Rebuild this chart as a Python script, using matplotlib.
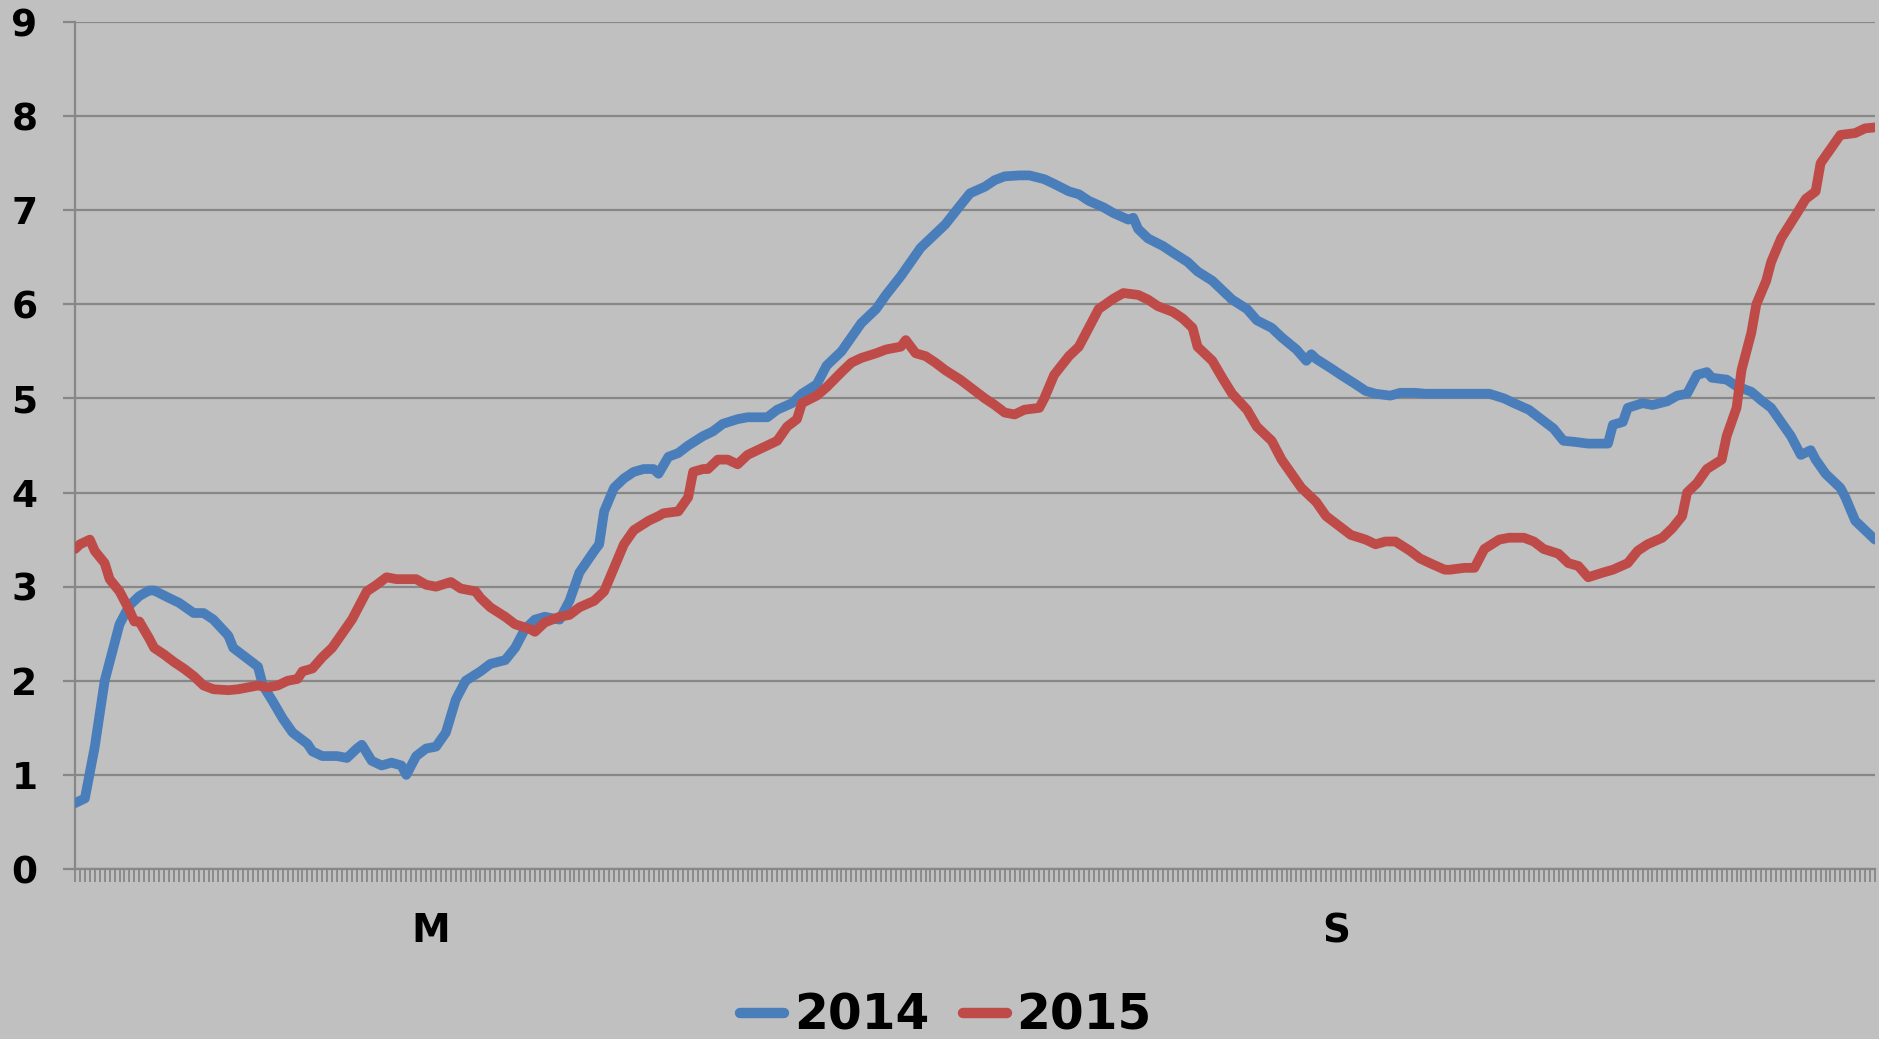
import matplotlib
matplotlib.use("Agg")
import matplotlib.pyplot as plt
from matplotlib.ticker import FixedLocator

# ---- data (day index within the year, value) ----
days_2014 = [0, 2, 4, 6, 8, 9, 11, 13, 15, 16, 19, 21, 24, 26, 28, 31, 32, 35, 37, 38,
             40, 42, 44, 47, 48, 50, 53, 55, 57, 58, 60, 62, 64, 66, 67, 69, 71, 73, 75, 77,
             79, 82, 84, 87, 89, 91, 93, 95, 98, 100, 102, 105, 106, 107, 109, 111, 113, 115, 117, 118,
             120, 122, 124, 127, 129, 131, 134, 136, 140, 142, 145, 147, 150, 152, 155, 157, 159, 162, 164, 167,
             169, 171, 174, 176, 179, 181, 184, 186, 188, 191, 193, 196, 198, 201, 203, 205, 208, 210, 213, 214,
             215, 217, 220, 222, 225, 227, 230, 232, 234, 237, 239, 242, 244, 247, 249, 250, 251, 254, 256, 259,
             261, 263, 266, 268, 271, 273, 276, 286, 289, 291, 294, 296, 299, 301, 303, 306, 308, 310, 311, 313,
             314, 317, 319, 322, 324, 326, 328, 330, 331, 334, 336, 339, 341, 343, 345, 347, 349, 351, 352, 354,
             357, 358, 360, 362, 364]
vals_2014 = [0.70, 0.75, 1.30, 2.00, 2.40, 2.60, 2.80, 2.90, 2.96, 2.96, 2.88, 2.83, 2.72, 2.72, 2.65, 2.48, 2.35, 2.23, 2.15, 1.95,
             1.78, 1.60, 1.45, 1.33, 1.25, 1.20, 1.20, 1.18, 1.28, 1.32, 1.15, 1.10, 1.13, 1.10, 1.00, 1.20, 1.28, 1.30, 1.45, 1.80,
             2.00, 2.10, 2.18, 2.22, 2.35, 2.55, 2.65, 2.68, 2.65, 2.85, 3.15, 3.38, 3.45, 3.80, 4.05, 4.15, 4.22, 4.25, 4.25, 4.20,
             4.38, 4.42, 4.50, 4.60, 4.65, 4.73, 4.78, 4.80, 4.80, 4.88, 4.95, 5.05, 5.15, 5.35, 5.50, 5.65, 5.80, 5.95, 6.10, 6.30,
             6.45, 6.60, 6.75, 6.85, 7.05, 7.18, 7.25, 7.32, 7.36, 7.37, 7.37, 7.33, 7.28, 7.20, 7.17, 7.10, 7.03, 6.97, 6.90, 6.92,
             6.80, 6.70, 6.62, 6.55, 6.45, 6.35, 6.25, 6.15, 6.05, 5.95, 5.83, 5.75, 5.65, 5.52, 5.40, 5.47, 5.42, 5.32, 5.25, 5.15,
             5.08, 5.05, 5.03, 5.06, 5.06, 5.05, 5.05, 5.05, 5.00, 4.95, 4.88, 4.80, 4.68, 4.55, 4.54, 4.52, 4.52, 4.52, 4.72, 4.75,
             4.90, 4.95, 4.93, 4.97, 5.03, 5.05, 5.25, 5.28, 5.22, 5.20, 5.13, 5.07, 4.98, 4.90, 4.75, 4.60, 4.40, 4.45, 4.35, 4.20,
             4.05, 3.95, 3.70, 3.60, 3.50]

days_2015 = [0, 1, 3, 4, 6, 7, 9, 11, 12, 13, 15, 16, 18, 20, 22, 24, 26, 28, 31, 33,
             35, 37, 39, 41, 43, 45, 46, 48, 50, 52, 54, 56, 57, 59, 61, 63, 65, 69, 71, 73,
             76, 78, 81, 82, 84, 87, 89, 92, 93, 95, 98, 100, 102, 105, 107, 109, 111, 113, 116, 118,
             119, 122, 124, 125, 127, 128, 130, 132, 134, 136, 138, 140, 142, 144, 146, 147, 150, 152, 155, 157,
             159, 162, 164, 167, 168, 170, 172, 174, 176, 179, 181, 184, 186, 188, 190, 192, 195, 196, 198, 201,
             203, 205, 207, 210, 212, 215, 217, 219, 222, 224, 226, 227, 230, 232, 234, 237, 239, 242, 244, 246,
             248, 251, 253, 256, 258, 261, 263, 265, 267, 270, 272, 274, 277, 278, 281, 283, 285, 288, 290, 293,
             295, 297, 300, 302, 304, 306, 309, 311, 314, 316, 318, 321, 323, 325, 326, 328, 330, 333, 334, 336,
             337, 339, 340, 342, 343, 345, 348, 350, 352, 353, 355, 357, 360, 362, 364]
vals_2015 = [3.40, 3.45, 3.50, 3.38, 3.25, 3.08, 2.95, 2.75, 2.63, 2.63, 2.45, 2.35, 2.28, 2.20, 2.13, 2.05, 1.95, 1.91, 1.90, 1.91,
             1.93, 1.95, 1.93, 1.95, 2.00, 2.02, 2.10, 2.13, 2.25, 2.35, 2.50, 2.65, 2.75, 2.95, 3.02, 3.10, 3.08, 3.08, 3.02, 3.00,
             3.05, 2.98, 2.95, 2.88, 2.78, 2.68, 2.60, 2.55, 2.52, 2.62, 2.68, 2.70, 2.78, 2.85, 2.95, 3.20, 3.45, 3.60, 3.70, 3.75,
             3.78, 3.80, 3.95, 4.22, 4.25, 4.25, 4.35, 4.35, 4.30, 4.40, 4.45, 4.50, 4.55, 4.70, 4.78, 4.95, 5.03, 5.12, 5.28, 5.38,
             5.43, 5.48, 5.52, 5.55, 5.62, 5.48, 5.45, 5.38, 5.30, 5.20, 5.12, 5.00, 4.93, 4.85, 4.83, 4.88, 4.90, 5.00, 5.25, 5.45,
             5.55, 5.75, 5.95, 6.06, 6.12, 6.10, 6.05, 5.98, 5.92, 5.85, 5.75, 5.55, 5.40, 5.22, 5.05, 4.88, 4.70, 4.55, 4.35, 4.20,
             4.05, 3.90, 3.75, 3.63, 3.55, 3.50, 3.45, 3.48, 3.48, 3.38, 3.30, 3.25, 3.18, 3.18, 3.20, 3.20, 3.40, 3.50, 3.52, 3.52,
             3.48, 3.40, 3.35, 3.25, 3.22, 3.10, 3.15, 3.18, 3.25, 3.38, 3.45, 3.52, 3.62, 3.75, 4.00, 4.10, 4.25, 4.35, 4.60, 4.90,
             5.30, 5.70, 6.00, 6.25, 6.45, 6.70, 6.95, 7.12, 7.20, 7.50, 7.65, 7.80, 7.82, 7.87, 7.88]

series_names = ["2014", "2015"]
x_label_days = [72, 255]
x_labels = ["M", "S"]
y_ticks = list(range(0, 10))
n_days = 365

# ---- style ----
BG = "#c0c0c0"
GRID = "#878787"
BLUE = "#4a7ebb"
RED = "#be4b48"

fig = plt.figure(figsize=(18.79, 10.39), dpi=100, facecolor=BG)
ax = fig.add_axes([75/1879, 1-869/1039, 1800/1879, 847/1039])
ax.set_facecolor(BG)

for d, v, name, col in [(days_2014, vals_2014, series_names[0], BLUE),
                         (days_2015, vals_2015, series_names[1], RED)]:
    ax.plot(d, v, color=col, lw=7, solid_capstyle="round",
            solid_joinstyle="round", label=name, zorder=3)

ax.set_xlim(0, n_days - 1)
ax.set_ylim(0, 9)

ax.set_yticks(y_ticks)
ax.set_yticklabels([str(t) for t in y_ticks], fontsize=27, fontweight="bold",
                   family="DejaVu Sans")
ax.yaxis.grid(True, color=GRID, lw=1.6, zorder=1)
ax.set_axisbelow(True)
ax.tick_params(axis="y", length=9, width=1.6, color=GRID, pad=18)

ax.xaxis.set_major_locator(FixedLocator(x_label_days))
ax.set_xticklabels(x_labels, fontsize=28, fontweight="bold", family="DejaVu Sans")
ax.xaxis.set_minor_locator(FixedLocator(list(range(n_days))))
ax.tick_params(axis="x", which="both", length=9, width=1.3, color=GRID)
ax.tick_params(axis="x", which="major", pad=22)

for s in ["top", "right"]:
    ax.spines[s].set_visible(False)
for s in ["left", "bottom"]:
    ax.spines[s].set_color(GRID)
    ax.spines[s].set_linewidth(1.6)

leg = fig.legend(loc="center", bbox_to_anchor=(946/1879, 1-1016/1039), ncol=2,
                 frameon=False, handlelength=0.9, handletextpad=0.2,
                 columnspacing=0.7, borderpad=0,
                 prop={"family": "DejaVu Sans", "weight": "bold", "size": 35})
for line in leg.get_lines():
    line.set_linewidth(7.5)

fig.savefig("out.png", dpi=100, facecolor=BG)
